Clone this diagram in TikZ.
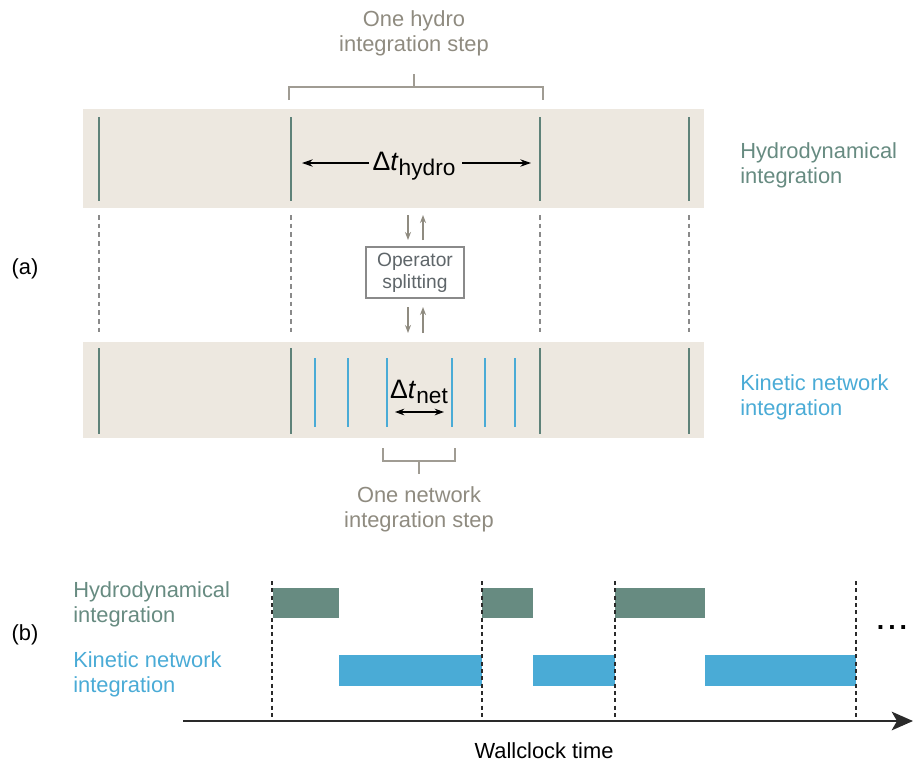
\documentclass[tikz,border=0pt]{standalone}
\usepackage{fontspec}
\setmainfont{Liberation Sans}
\usetikzlibrary{arrows.meta}
\definecolor{beige}{HTML}{EDE8E0}
\definecolor{hgreen}{HTML}{678B81}
\definecolor{hline}{HTML}{5E8279}
\definecolor{kblue}{HTML}{4AABD6}
\definecolor{gtext}{HTML}{8F8B80}
\definecolor{dgray}{HTML}{8A8A8A}
\definecolor{boxtext}{HTML}{5F666A}
\definecolor{axis}{HTML}{2A2A2A}
\begin{document}
\begin{tikzpicture}[x=0.75pt,y=-0.75pt,
  lbl/.style={font=\fontsize{16.4}{18.8}\selectfont, align=left, inner sep=0pt},
  clbl/.style={font=\fontsize{16.4}{18.8}\selectfont, align=center, inner sep=0pt},
  band/.style={fill=beige, draw=none},
  hstep/.style={draw=hline, line width=1.5pt},
  kstep/.style={draw=kblue, line width=0.9pt},
  sync/.style={draw=dgray, line width=0.8pt, dash pattern=on 3.5pt off 3pt},
  wsync/.style={draw=axis, line width=0.8pt, dash pattern=on 3pt off 2.5pt},
  brk/.style={draw=gtext!85, line width=0.9pt},
  garrow/.style={draw=gtext, line width=1pt, -{Stealth[length=6pt,width=4.5pt]}},
  darrow/.style={draw=black, line width=0.9pt, {Stealth[length=7pt,width=5pt]}-{Stealth[length=7pt,width=5pt]}},
  harrow/.style={draw=black, line width=0.9pt, -{Stealth[length=8pt,width=5.5pt]}},
  hbar/.style={fill=hgreen, draw=none},
  kbar/.style={fill=kblue, draw=none}]
\useasboundingbox (0,0) rectangle (914,765);

% ---------- part (a) ----------
\node[clbl] (pa) at (25,269) {(a)};

\fill[band] (83,109) rectangle (704,208);
\fill[band] (83,342) rectangle (704,438);

% hydro step lines, sync lines
\foreach \x/\n in {99/a,291/b,540/c,689/d}{
  \coordinate (ht\n) at (\x,117);
  \coordinate (hb\n) at (\x,201);
  \draw[hstep] (ht\n) -- (hb\n);
  \coordinate (kt\n) at (\x,348);
  \coordinate (kb\n) at (\x,434);
  \draw[hstep] (kt\n) -- (kb\n);
  \coordinate (st\n) at (\x,215);
  \coordinate (sb\n) at (\x,334);
  \draw[sync] (st\n) -- (sb\n);
}

% network step lines
\foreach \x/\n in {315/1,348/2,387/3,452/4,485/5,515/6}{
  \coordinate (nt\n) at (\x,358);
  \coordinate (nb\n) at (\x,427);
  \draw[kstep] (nt\n) -- (nb\n);
}

% delta t hydro
\node[font=\fontsize{20}{22}\selectfont, inner sep=0pt] (dth) at (414,166)
  {Δ\textit{t}\raisebox{-0.35ex}{\fontsize{17}{19}\selectfont hydro}};
\coordinate (dthw) at (369,163);
\coordinate (dthl) at (302,163);
\coordinate (dthe) at (462,163);
\coordinate (dthr) at (531,163);
\draw[harrow] (dthw) -- (dthl);
\draw[harrow] (dthe) -- (dthr);

% delta t net
\node[font=\fontsize{20}{22}\selectfont, inner sep=0pt] (dtn) at (419,392)
  {Δ\textit{t}\raisebox{-0.35ex}{\fontsize{17}{19}\selectfont net}};
\coordinate (dtnl) at (395,412);
\coordinate (dtnr) at (444,412);
\draw[darrow] (dtnl) -- (dtnr);

% hydro bracket + label
\node[clbl, text=gtext] (hlab) at (414,33) {One hydro\\integration step};
\coordinate (hbl) at (289,100);
\coordinate (hbl2) at (289,87);
\coordinate (hbr2) at (543,87);
\coordinate (hbr) at (543,100);
\coordinate (hbs) at (414,74);
\coordinate (hbm) at (414,87);
\draw[brk] (hbl) -- (hbl2) -- (hbr2) -- (hbr);
\draw[brk] (hbm) -- (hbs);

% network bracket + label
\node[clbl, text=gtext] (nlab) at (419,509) {One network\\integration step};
\coordinate (nbl) at (383,448);
\coordinate (nbl2) at (383,461);
\coordinate (nbr2) at (455,461);
\coordinate (nbr) at (455,448);
\coordinate (nbm) at (419,461);
\coordinate (nbs) at (419,474);
\draw[brk] (nbl) -- (nbl2) -- (nbr2) -- (nbr);
\draw[brk] (nbm) -- (nbs);

% operator splitting
\node[draw=dgray, line width=0.8pt, fill=white, minimum width=98*0.75pt, minimum height=51*0.75pt,
  align=center, inner sep=0pt, text=boxtext, font=\fontsize{14.4}{16.8}\selectfont] (op) at (415,272.5)
  {Operator\\splitting};
\coordinate (u1) at (408,215);
\coordinate (u2) at (408,240);
\coordinate (u3) at (423,240);
\coordinate (u4) at (423,215);
\draw[garrow] (u1) -- (u2);
\draw[garrow] (u3) -- (u4);
\coordinate (l1) at (408,307);
\coordinate (l2) at (408,333);
\coordinate (l3) at (423,333);
\coordinate (l4) at (423,307);
\draw[garrow] (l1) -- (l2);
\draw[garrow] (l3) -- (l4);

% right labels
\node[lbl, anchor=west, text=hgreen] (rh) at (740,165) {Hydrodynamical\\integration};
\node[lbl, anchor=west, text=kblue] (rk) at (740,397) {Kinetic network\\integration};

% ---------- part (b) ----------
\node[clbl] (pb) at (25,635) {(b)};
\node[lbl, anchor=west, text=hgreen] (bh) at (73,604) {Hydrodynamical\\integration};
\node[lbl, anchor=west, text=kblue] (bk) at (73,674) {Kinetic network\\integration};

\fill[hbar] (273,588) rectangle (339,618);
\fill[hbar] (482,588) rectangle (533,618);
\fill[hbar] (615,588) rectangle (705,618);
\fill[kbar] (339,655) rectangle (482,686);
\fill[kbar] (533,655) rectangle (615,686);
\fill[kbar] (705,655) rectangle (856,686);

\foreach \x/\n in {272/a,482/b,615/c,856/d}{
  \coordinate (wt\n) at (\x,581);
  \coordinate (wb\n) at (\x,721);
  \draw[wsync] (wt\n) -- (wb\n);
}

\coordinate (ax0) at (183,721);
\coordinate (ax1) at (913,721);
\draw[draw=axis, line width=1.5pt, -{Stealth[length=16pt,width=14pt,inset=4pt]}] (ax0) -- (ax1);

\node[font=\fontsize{20}{22}\selectfont\bfseries, inner sep=0pt] (dots) at (892,628) {.\kern3pt.\kern3pt.};
\node[clbl] (wl) at (544,751) {Wallclock time};
\end{tikzpicture}
\end{document}
